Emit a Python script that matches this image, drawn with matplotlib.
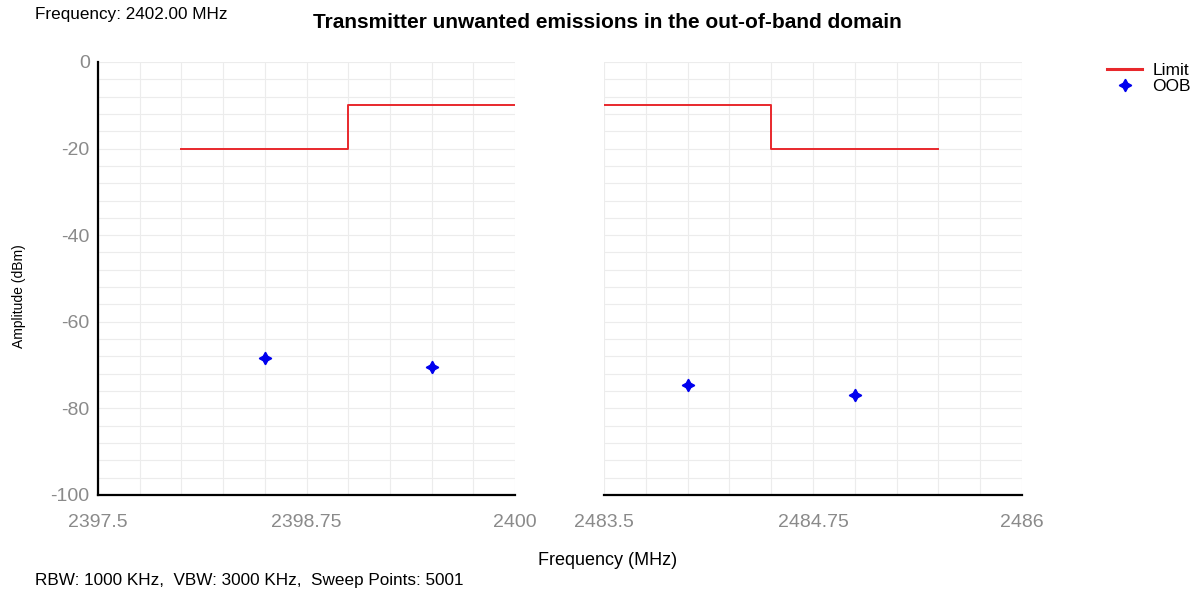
"""
Transmitter unwanted emissions in the out-of-band domain
"""
import matplotlib
matplotlib.use('Agg')
import matplotlib.pyplot as plt
from matplotlib.ticker import MultipleLocator

plt.rcParams['font.family'] = ['Liberation Sans', 'DejaVu Sans']
plt.rcParams['axes.unicode_minus'] = False

# Limit mask (step, drawn 'post')
limit_low_f = [2398.0, 2399.0, 2400.0]
limit_low_db = [-20, -10, -10]
limit_high_f = [2483.5, 2484.5, 2485.5]
limit_high_db = [-10, -20, -20]

# Measured out-of-band points
oob_low_f = [2398.5, 2399.5]
oob_low_db = [-68.4, -70.4]
oob_high_f = [2484.0, 2485.0]
oob_high_db = [-74.6, -76.9]

low_ticks = [2397.5, 2398.75, 2400]
low_labels = ['2397.5', '2398.75', '2400']
high_ticks = [2483.5, 2484.75, 2486]
high_labels = ['2483.5', '2484.75', '2486']
y_ticks = [0, -20, -40, -60, -80, -100]

LIMIT_RED = '#e8282c'
OOB_BLUE = '#0000ee'
TICK_GRAY = '#8a8a8a'
star4 = (4, 1, 0)

fig = plt.figure(figsize=(12.03, 5.92), dpi=100)
ax1 = fig.add_axes([0.0815, 0.1639, 0.3466, 0.7314])
ax2 = fig.add_axes([0.5021, 0.1639, 0.3475, 0.7314])

for ax, lf, ldb, of, odb, ticks, labels in [
        (ax1, limit_low_f, limit_low_db, oob_low_f, oob_low_db, low_ticks, low_labels),
        (ax2, limit_high_f, limit_high_db, oob_high_f, oob_high_db, high_ticks, high_labels)]:
    ax.step(lf, ldb, where='post', color=LIMIT_RED, linewidth=1.4, label='Limit')
    ax.plot(of, odb, linestyle='none', marker=star4, markersize=9,
            color=OOB_BLUE, label='OOB')
    ax.set_xlim(ticks[0], ticks[-1])
    ax.set_ylim(-100, 0)
    ax.set_xticks(ticks)
    ax.set_xticklabels(labels)
    ax.xaxis.set_minor_locator(MultipleLocator(0.25))
    ax.set_yticks(y_ticks)
    ax.yaxis.set_minor_locator(MultipleLocator(4))
    ax.grid(True, which='both', color='#ececec', linewidth=0.8)
    ax.set_axisbelow(True)
    ax.tick_params(which='both', length=0, colors=TICK_GRAY, labelsize=14)
    ax.tick_params(axis='x', pad=14)
    ax.tick_params(axis='y', pad=6)
    ax.spines['top'].set_visible(False)
    ax.spines['right'].set_visible(False)
    ax.spines['bottom'].set_linewidth(1.6)
    ax.spines['left'].set_linewidth(1.6)

ax2.spines['left'].set_visible(False)
ax2.set_yticklabels([])

fig.text(0.016, 0.50, 'Amplitude (dBm)', rotation=90, ha='center', va='center', fontsize=10)
fig.text(0.505, 0.054, 'Frequency (MHz)', ha='center', va='center', fontsize=13)
fig.text(0.505, 0.962, 'Transmitter unwanted emissions in the out-of-band domain',
         ha='center', va='center', fontsize=15, fontweight='bold')
fig.text(0.029, 0.975, 'Frequency: 2402.00 MHz', ha='left', va='center', fontsize=12.3)
fig.text(0.029, 0.02, 'RBW: 1000 KHz,  VBW: 3000 KHz,  Sweep Points: 5001',
         ha='left', va='center', fontsize=12.3)

handles, labels = ax1.get_legend_handles_labels()
leg = fig.legend(handles, labels, loc='upper right', bbox_to_anchor=(1.0, 0.915),
                 frameon=False, fontsize=12.5, handlelength=2.0, borderpad=0.2,
                 labelspacing=0.05, handletextpad=0.6)
for line in leg.get_lines():
    line.set_linewidth(2.2)

plt.savefig('out.png', dpi=100)
